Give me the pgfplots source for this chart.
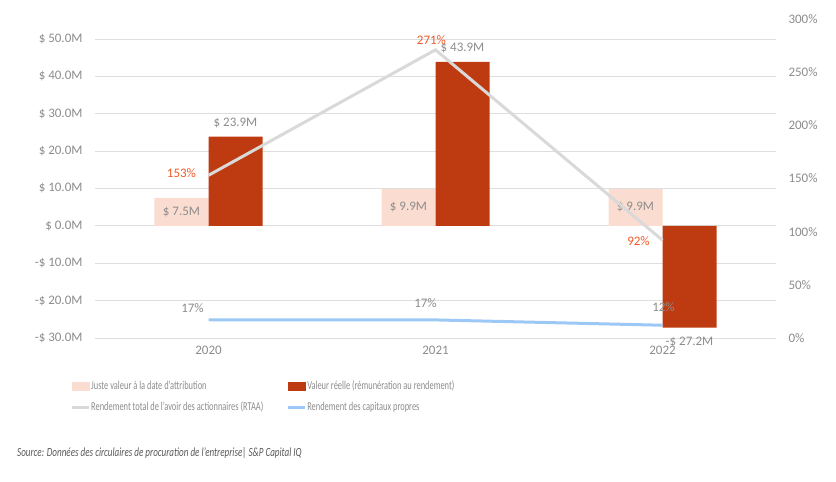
\documentclass[border=0pt]{standalone}
\usepackage{graphicx}
\usepackage{fontspec}
\setmainfont{Carlito}
\usepackage{pgfplots}
\pgfplotsset{compat=1.18}
\definecolor{lightbar}{HTML}{FADCD0}
\definecolor{darkbar}{HTML}{BE3A10}
\definecolor{rtaa}{HTML}{D9D9D9}
\definecolor{roe}{HTML}{9CC8F5}
\definecolor{txtgray}{HTML}{8C8C8C}
\definecolor{pctorange}{HTML}{F0592A}
\definecolor{gridgray}{HTML}{DEDEDE}
\definecolor{srcgray}{HTML}{595959}
\newcommand{\lbl}{\fontsize{13}{15}\selectfont}
\newcommand{\leg}[1]{\scalebox{0.70}[1]{#1}}
\begin{document}
\begin{tikzpicture}
\useasboundingbox (0pt,0pt) rectangle (836pt,482pt);
\begin{axis}[
  at={(95pt,144pt)}, anchor=south west,
  scale only axis, width=681pt, height=319pt,
  xmin=-0.5, xmax=2.5, ymin=-30, ymax=55.35,
  axis line style={draw=none},
  ytick={-30,-20,...,50},
  yticklabels={{-\$ 30.0M},{-\$ 20.0M},{-\$ 10.0M},{\$ 0.0M},{\$ 10.0M},{\$ 20.0M},{\$ 30.0M},{\$ 40.0M},{\$ 50.0M}},
  xtick={0,1,2}, xticklabels={2020,2021,2022},
  ymajorgrids, grid style={gridgray, line width=0.8pt},
  major tick length=0pt,
  ticklabel style={font=\lbl, text=txtgray},
  yticklabel style={xshift=-9pt},
  xticklabel style={yshift=-5pt},
  clip=false,
]
\addplot[ybar, bar width=54pt, bar shift=-27pt, fill=lightbar, draw=none] coordinates {(0,7.5) (1,9.9) (2,9.9)};
\addplot[ybar, bar width=54pt, bar shift=27pt, fill=darkbar, draw=none] coordinates {(0,23.9) (1,43.9) (2,-27.2)};
% labels of the light bars (centred inside)
\addplot[draw=none, mark=none, nodes near coords, point meta=explicit symbolic,
  every node near coord/.append style={font=\lbl, text=txtgray, anchor=center}]
  coordinates {(-0.119,3.75)[\$ 7.5M] (0.881,4.95)[\$ 9.9M] (1.881,4.95)[\$ 9.9M]};
% labels of the dark bars
\addplot[draw=none, mark=none, nodes near coords, point meta=explicit symbolic,
  every node near coord/.append style={font=\lbl, text=txtgray, anchor=center, yshift=14pt}]
  coordinates {(0.119,23.9)[\$ 23.9M] (1.119,43.9)[\$ 43.9M]};
\addplot[draw=none, mark=none, nodes near coords, point meta=explicit symbolic,
  every node near coord/.append style={font=\lbl, text=txtgray, anchor=center, yshift=-14pt}]
  coordinates {(2.119,-27.2)[-\$ 27.2M]};
\end{axis}
\begin{axis}[
  at={(95pt,144pt)}, anchor=south west,
  scale only axis, width=681pt, height=319pt,
  xmin=-0.5, xmax=2.5, ymin=0, ymax=300,
  axis line style={draw=none},
  axis y line*=right, axis x line=none,
  ytick={0,50,...,300},
  yticklabels={0\%,50\%,100\%,150\%,200\%,250\%,300\%},
  xtick=\empty,
  major tick length=0pt,
  ticklabel style={font=\lbl, text=txtgray},
  yticklabel style={anchor=west, xshift=9pt},
  clip=false,
  legend columns=2,
  legend style={at={(axis description cs:-0.0367,-0.13)}, anchor=north west,
    draw=none, fill=none, font=\fontsize{12}{14}\selectfont, text=txtgray,
    /tikz/every even column/.append style={column sep=22pt},
    row sep=9pt, inner sep=0pt, nodes={inner sep=1pt}},
  legend cell align=left,
]
\addlegendimage{legend image code/.code={\fill[lightbar] (0pt,-4pt) rectangle (17pt,4pt);}}
\addlegendentry{\leg{Juste valeur à la date d’attribution}}
\addlegendimage{legend image code/.code={\fill[darkbar] (0pt,-4pt) rectangle (17pt,4pt);}}
\addlegendentry{\leg{Valeur réelle (rémunération au rendement)}}
\addplot[rtaa, line width=3pt, legend image code/.code={\draw[rtaa, line width=3pt] (0pt,0pt) -- (17pt,0pt);}] coordinates {(0,153) (1,271) (2,92)};
\addlegendentry{\leg{Rendement total de l’avoir des actionnaires (RTAA)}}
\addplot[roe, line width=3pt, legend image code/.code={\draw[roe, line width=3pt] (0pt,0pt) -- (17pt,0pt);}] coordinates {(0,17) (1,17) (2,12)};
\addlegendentry{\leg{Rendement des capitaux propres}}
% percentage labels
\addplot[forget plot, draw=none, mark=none, nodes near coords, point meta=explicit symbolic,
  every node near coord/.append style={font=\lbl, text=pctorange, anchor=center, xshift=-27pt, yshift=2pt}]
  coordinates {(0,153)[153\%]};
\addplot[forget plot, draw=none, mark=none, nodes near coords, point meta=explicit symbolic,
  every node near coord/.append style={font=\lbl, text=pctorange, anchor=center, xshift=-4pt, yshift=10pt}]
  coordinates {(1,271)[271\%]};
\addplot[forget plot, draw=none, mark=none, nodes near coords, point meta=explicit symbolic,
  every node near coord/.append style={font=\lbl, text=pctorange, anchor=center, xshift=-24pt, yshift=-1pt}]
  coordinates {(2,92)[92\%]};
\addplot[forget plot, draw=none, mark=none, nodes near coords, point meta=explicit symbolic,
  every node near coord/.append style={font=\lbl, text=txtgray, anchor=center, xshift=-16pt, yshift=12pt}]
  coordinates {(0,17)[17\%]};
\addplot[forget plot, draw=none, mark=none, nodes near coords, point meta=explicit symbolic,
  every node near coord/.append style={font=\lbl, text=txtgray, anchor=center, xshift=-10pt, yshift=17pt}]
  coordinates {(1,17)[17\%]};
\addplot[forget plot, draw=none, mark=none, nodes near coords, point meta=explicit symbolic,
  every node near coord/.append style={font=\lbl, text=txtgray, anchor=center, xshift=1pt, yshift=18pt}]
  coordinates {(2,12)[12\%]};
\end{axis}
\node[anchor=west, text=srcgray, font=\fontsize{12.5}{14}\selectfont\itshape, inner sep=0pt] at (17pt,29pt)
  {\scalebox{0.725}[1]{Source: Données des circulaires de procuration de l’entreprise| S\&P Capital IQ}};
\end{tikzpicture}
\end{document}
